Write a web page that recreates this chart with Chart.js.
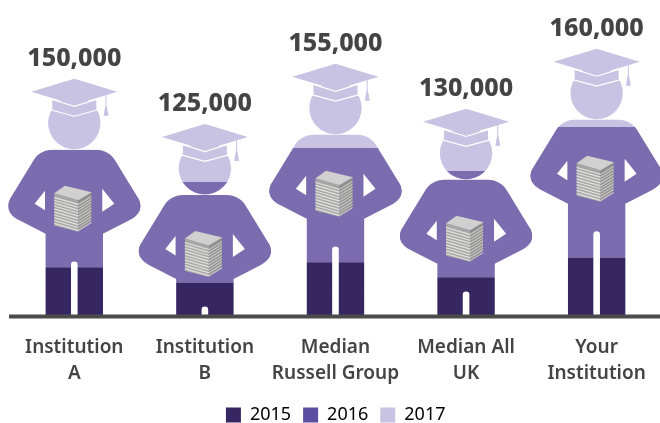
<!DOCTYPE html>
<html><head><meta charset="utf-8">
<style>html,body{margin:0;padding:0;background:#fff;overflow:hidden}canvas{display:block}</style>
<script src="https://cdn.jsdelivr.net/npm/chart.js@4"></script>
</head><body><canvas id="c" width="664" height="423"></canvas>
<script>
const categories=[['Institution','A'],['Institution','B'],['Median','Russell Group'],['Median All','UK'],['Your','Institution']];
const totalLabels=['150,000','125,000','155,000','130,000','160,000'];
const series2015=[31000,21500,34200,24700,37300];
const series2016=[74000,63300,72100,67100,82300];
const series2017=[45000,36700,53200,39200,49400];
const seriesNames=['2015','2016','2017'];
const barColors=['#362661','#7b6caf','#c8c3e2'];
const legendColors=['#362661','#5c4ea0','#c8c3e2'];
const textColor='#444444';
const FONT='"Noto Sans", Roboto, sans-serif';

function personPath(cx,top){
  const p=new Path2D();
  const X=x=>cx+x,Y=y=>top+y;
  p.moveTo(X(0),Y(0));p.lineTo(X(43),Y(13));p.lineTo(X(0),Y(26));p.lineTo(X(-43),Y(13));p.closePath();
  p.moveTo(X(-22),Y(21));p.lineTo(X(0),Y(26));p.lineTo(X(22),Y(21));p.lineTo(X(22),Y(32));p.lineTo(X(0),Y(37));p.lineTo(X(-22),Y(32));p.closePath();
  p.moveTo(X(26.2),Y(44.3));p.arc(X(0),Y(44.3),26.2,0,Math.PI*2,false);p.closePath();
  p.moveTo(X(31.2),Y(15));p.lineTo(X(32.2),Y(15));p.lineTo(X(32.2),Y(26));p.lineTo(X(34.3),Y(37));p.lineTo(X(29.3),Y(37));p.lineTo(X(31.2),Y(26));p.closePath();
  p.moveTo(X(-22),Y(71));p.lineTo(X(22),Y(71));
  p.bezierCurveTo(X(30),Y(71),X(37),Y(75),X(41),Y(82));
  p.lineTo(X(63),Y(118));
  p.bezierCurveTo(X(69),Y(127),X(66),Y(136),X(56),Y(141));
  p.lineTo(X(28.7),Y(155));
  p.lineTo(X(28.7),Y(320));p.lineTo(X(3.3),Y(320));p.lineTo(X(3.3),Y(186));
  p.arc(X(0),Y(186),3.3,0,Math.PI,true);
  p.lineTo(X(-3.3),Y(320));p.lineTo(X(-28.7),Y(320));p.lineTo(X(-28.7),Y(155));
  p.lineTo(X(-56),Y(141));
  p.bezierCurveTo(X(-66),Y(136),X(-69),Y(127),X(-63),Y(118));
  p.lineTo(X(-41),Y(82));
  p.bezierCurveTo(X(-37),Y(75),X(-30),Y(71),X(-22),Y(71));
  p.closePath();
  p.moveTo(X(-29.3),Y(112));p.lineTo(X(-39.6),Y(125));p.lineTo(X(-29.3),Y(131.5));p.closePath();
  p.moveTo(X(28),Y(110));p.lineTo(X(28),Y(133));p.lineTo(X(40),Y(125));p.closePath();
  return p;
}
function drawBooks(ctx,cx,top){
  const X=x=>cx+x,Y=y=>top+y;
  const f=(pts,c)=>{ctx.beginPath();pts.forEach((q,i)=>i?ctx.lineTo(X(q[0]),Y(q[1])):ctx.moveTo(X(q[0]),Y(q[1])));ctx.closePath();ctx.fillStyle=c;ctx.fill();};
  f([[-20,114.5],[4,121.5],[4,153],[-20,147]],'#a6a6a5');
  f([[4,121.5],[17,113.5],[17,142],[4,153]],'#8f8f8e');
  for(let i=0;i<10;i++){
    const d=2.9*i+3.5;
    f([[-20,114.5+d],[4,121.5+d],[4,121.5+d+1.4],[-20,114.5+d+1.4]],'#dededd');
    f([[4,121.5+d],[17,113.5+d],[17,113.5+d+1.4],[4,121.5+d+1.4]],'#c6c6c5');
  }
  f([[-9.5,107],[17.5,113.5],[4,121.5],[-20,114.5]],'#cfd0cf');
}
const pictogram={id:'pictogram',
  beforeDatasetsDraw(chart){
    const ctx=chart.ctx,x=chart.scales.x,y=chart.scales.y;
    ctx.save();
    ctx.beginPath();ctx.rect(0,0,chart.width,y.getPixelForValue(0));ctx.clip();
    const all=new Path2D();
    categories.forEach((c,i)=>{
      const total=series2015[i]+series2016[i]+series2017[i];
      all.addPath(personPath(x.getPixelForValue(i),y.getPixelForValue(total)));
    });
    ctx.clip(all,'nonzero');
  },
  afterDatasetsDraw(chart){
    const ctx=chart.ctx,x=chart.scales.x,y=chart.scales.y;
    ctx.restore();
    const base=y.getPixelForValue(0);
    ctx.fillStyle='#4b4b4b';ctx.fillRect(chart.chartArea.left,base-2,chart.chartArea.width,4);
    categories.forEach((c,i)=>{
      const total=series2015[i]+series2016[i]+series2017[i];
      const cx=x.getPixelForValue(i),top=y.getPixelForValue(total);
      ctx.strokeStyle='#fff';ctx.lineWidth=1.2;
      ctx.beginPath();ctx.moveTo(cx-23,top+20.5);ctx.lineTo(cx,top+27.6);ctx.lineTo(cx+23,top+20.5);ctx.stroke();
      ctx.beginPath();ctx.moveTo(cx-27,top+30.5);ctx.lineTo(cx-22,top+31.5);ctx.lineTo(cx,top+37.5);ctx.lineTo(cx+22,top+31.5);ctx.lineTo(cx+27,top+30.5);ctx.stroke();
      drawBooks(ctx,cx,top);
      ctx.fillStyle=textColor;ctx.font='800 25px '+FONT;ctx.textAlign='center';ctx.textBaseline='middle';
      ctx.fillText(totalLabels[i],cx,top-20);
    });
  }
};
new Chart(document.getElementById('c'),{
  type:'bar',
  data:{labels:categories,datasets:[
    {label:seriesNames[0],data:series2015,backgroundColor:barColors[0]},
    {label:seriesNames[1],data:series2016,backgroundColor:barColors[1]},
    {label:seriesNames[2],data:series2017,backgroundColor:barColors[2]}
  ]},
  options:{
    responsive:false,animation:false,
    layout:{padding:{left:9,right:1.6,top:0,bottom:-11}},
    datasets:{bar:{barPercentage:1.02,categoryPercentage:1,borderWidth:0,clip:false,stack:'s'}},
    plugins:{
      tooltip:{enabled:false},
      legend:{position:'bottom',align:'center',
        labels:{boxWidth:15,boxHeight:15,padding:12,color:textColor,font:{family:FONT,size:18,weight:'400'},
          generateLabels:()=>seriesNames.map((n,i)=>({text:n,fillStyle:legendColors[i],strokeStyle:legendColors[i],lineWidth:0,datasetIndex:i}))}}
    },
    scales:{
      x:{stacked:true,
        afterFit(s){s.height=77.5;},
        grid:{display:false,drawTicks:false},
        border:{display:false},
        ticks:{color:textColor,padding:18,maxRotation:0,autoSkip:false,font:{family:FONT,size:19,weight:'600',lineHeight:1.37}}},
      y:{stacked:true,display:false,min:0,max:199680}
    }
  },
  plugins:[pictogram]
});
</script></body></html>
